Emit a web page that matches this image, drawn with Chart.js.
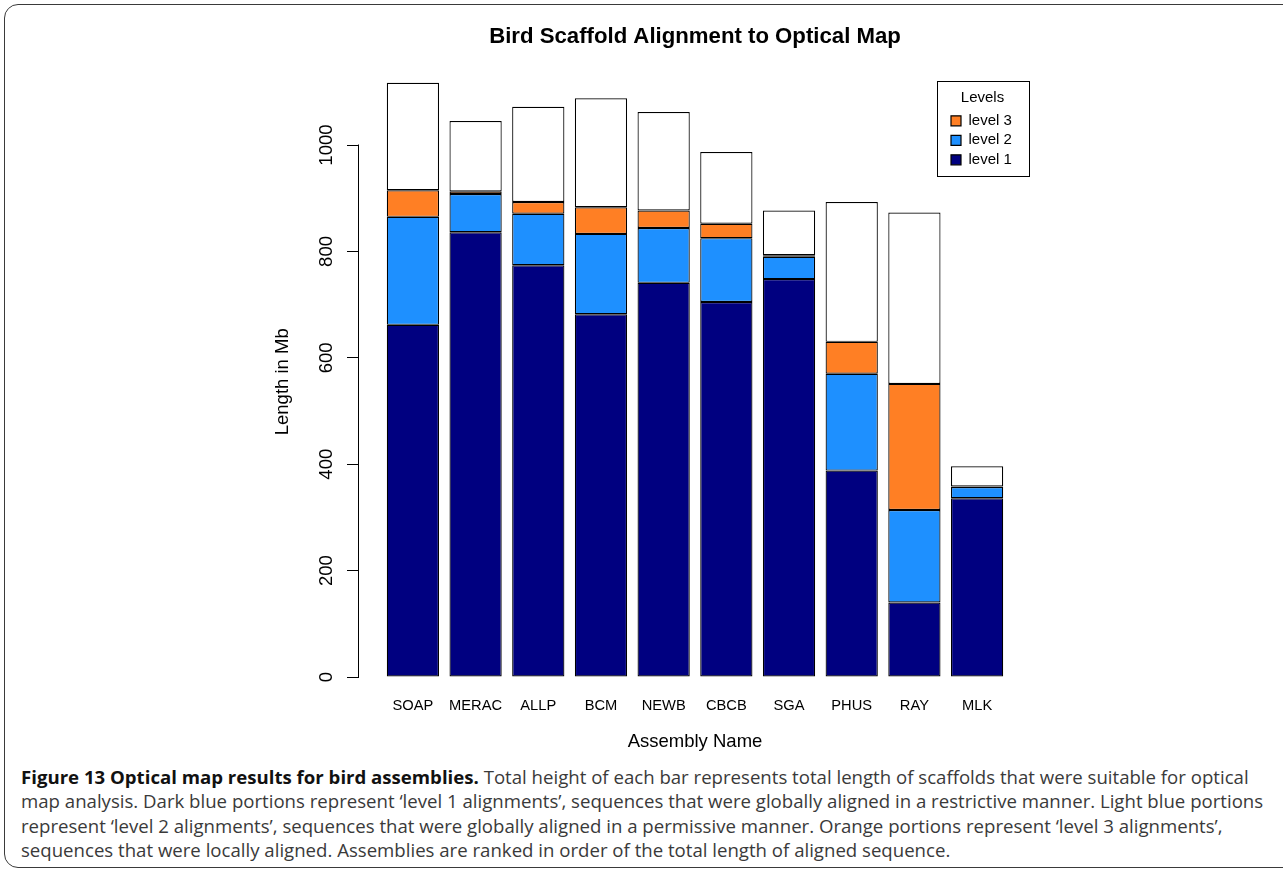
<!DOCTYPE html>
<html>
<head>
<meta charset="utf-8">
<script src="https://cdn.jsdelivr.net/npm/chart.js@4.4.0/dist/chart.umd.min.js"></script>
<style>
  html, body { margin:0; padding:0; background:#fff; width:1283px; height:878px; overflow:hidden; }
  #frame { position:absolute; left:4px; top:4px; width:1320px; height:864px; border:1.5px solid #3a3a3a; border-radius:14px; box-sizing:border-box; }
  #chart { position:absolute; left:0; top:0; }
  #caption { position:absolute; left:21px; top:765px; font-family:'Open Sans', 'Noto Sans', sans-serif; font-size:16px; line-height:24.3px; color:#3a3a3a; white-space:nowrap; }
  #caption b { color:#111; font-weight:700; }
</style>
</head>
<body>
<div id="frame"></div>
<canvas id="chart" width="1283" height="760"></canvas>
<div id="caption">
  <div id="cap1"><b>Figure 13 Optical map results for bird assemblies.</b> Total height of each bar represents total length of scaffolds that were suitable for optical</div>
  <div id="cap2">map analysis. Dark blue portions represent ‘level 1 alignments’, sequences that were globally aligned in a restrictive manner. Light blue portions</div>
  <div id="cap3">represent ‘level 2 alignments’, sequences that were globally aligned in a permissive manner. Orange portions represent ‘level 3 alignments’,</div>
  <div id="cap4">sequences that were locally aligned. Assemblies are ranked in order of the total length of aligned sequence.</div>
</div>
<script>
// ---- data (in Mb) ----
const categories = ['SOAP', 'MERAC', 'ALLP', 'BCM', 'NEWB', 'CBCB', 'SGA', 'PHUS', 'RAY', 'MLK'];
const level1     = [662, 836, 774, 682, 741, 705, 748, 388, 140, 336];
const level2     = [203,  72,  97, 151, 103, 120,  42, 182, 174,  21];
const level3     = [ 50,   5,  22,  50,  33,  27,   3,  60, 237,   1];
const unaligned  = [202, 132, 179, 205, 185, 135,  84, 263, 322,  38];
const yTickValues = [0, 200, 400, 600, 800, 1000];

// ---- styling ----
const FONT = "'Liberation Sans', Arial, Helvetica, sans-serif";
Chart.defaults.font.family = FONT;
Chart.defaults.color = '#000';

const X_PAD = 0.36;     // extra category space on each side (R-style plot region)
const Y_MAX = 1110;

function makeSet(label, data, color) {
  return {
    label, data,
    backgroundColor: color,
    borderColor: '#000',
    borderWidth: 1.2,
    borderSkipped: false,
    barPercentage: 1 / 1.2,
    categoryPercentage: 1,
    clip: false
  };
}

const yAxisLine = {
  id: 'yAxisLine',
  afterDraw(chart) {
    const s = chart.scales.y;
    const ctx = chart.ctx;
    const x = Math.round(s.right) - 0.5;
    const y0 = Math.round(s.getPixelForValue(yTickValues[0])) + 0.5;
    const y1 = Math.round(s.getPixelForValue(yTickValues[yTickValues.length - 1])) - 0.5;
    ctx.save();
    ctx.strokeStyle = '#000';
    ctx.lineWidth = 1;
    ctx.beginPath();
    ctx.moveTo(x, y0);
    ctx.lineTo(x, y1);
    ctx.stroke();
    ctx.restore();
  }
};

const legendPlace = {
  id: 'legendPlace',
  afterLayout(chart) {
    const lg = chart.legend;
    if (!lg) return;
    const ca = chart.chartArea;
    lg.left = ca.right - 84.5;
    lg.top = ca.top - 5.5;
    lg.width = 72;
    lg.right = lg.left + lg.width;
    lg.bottom = lg.top + 200;
  },
  afterDraw(chart) {
    const lg = chart.legend;
    if (!lg) return;
    const ctx = chart.ctx;
    ctx.save();
    ctx.strokeStyle = '#000';
    ctx.lineWidth = 1;
    ctx.strokeRect(Math.round(lg.left - 9.5) + 0.5, Math.round(lg.top) + 0.5, 92, 95);
    ctx.restore();
  }
};

new Chart(document.getElementById('chart'), {
  type: 'bar',
  data: {
    labels: categories,
    datasets: [
      makeSet('level 1', level1, '#000080'),
      makeSet('level 2', level2, '#1E90FF'),
      makeSet('level 3', level3, '#FF7F24'),
      makeSet('unaligned', unaligned, '#FFFFFF')
    ]
  },
  options: {
    responsive: false,
    animation: false,
    devicePixelRatio: 1,
    layout: { padding: { left: 271.4, right: 252, top: 10, bottom: 7.2 } },
    plugins: {
      title: {
        display: true,
        fullSize: false,
        text: 'Bird Scaffold Alignment to Optical Map',
        color: '#000',
        font: { size: 22.2, weight: 'bold', family: FONT },
        padding: { top: 13.4, bottom: 36.5 }
      },
      legend: {
        display: true,
        position: 'chartArea',
        align: 'start',
        reverse: true,
        title: { display: true, text: 'Levels', color: '#000', font: { size: 15, family: FONT }, padding: { top: 9, bottom: 0.8 } },
        labels: {
          boxWidth: 10, boxHeight: 10, padding: 4.5, color: '#000',
          font: { size: 15, family: FONT },
          filter: (item) => item.datasetIndex < 3
        }
      },
      tooltip: { enabled: false }
    },
    scales: {
      x: {
        stacked: true,
        offset: true,
        grid: { display: false },
        border: { display: false },
        ticks: { color: '#000', font: { size: 14.7, family: FONT }, padding: 12, maxRotation: 0, autoSkip: false },
        title: { display: true, text: 'Assembly Name', color: '#000', font: { size: 18.5, family: FONT }, padding: { top: 0, bottom: 0 } },
        afterBuildTicks(s) {
          s._startValue = -0.5 - X_PAD;
          s._valueRange = categories.length + 2 * X_PAD;
        },
        afterFit(s) { s.height = 75.8; }
      },
      y: {
        stacked: true,
        min: 0,
        max: Y_MAX,
        grid: { display: true, drawOnChartArea: false, drawTicks: true, tickLength: 12, color: '#000', lineWidth: 1 },
        border: { display: false },
        ticks: { color: '#000', font: { size: 18.5, family: FONT }, minRotation: 90, maxRotation: 90, crossAlign: 'center', padding: 0,
                 callback: (v) => String(v) },
        title: { display: true, text: 'Length in Mb', color: '#000', font: { size: 18.5, family: FONT }, padding: 0 },
        afterBuildTicks(s) { s.ticks = yTickValues.map(v => ({ value: v })); },
        afterFit(s) { s.width = 87.6; }
      }
    }
  },
  plugins: [yAxisLine, legendPlace]
});

// fit caption width to the reference line length
(function () {
  const cap = document.getElementById('caption');
  const line = document.getElementById('cap2');
  const r = document.createRange();
  r.selectNodeContents(line);
  const w = r.getBoundingClientRect().width;
  if (w > 0) cap.style.fontSize = (16 * 1242 / w).toFixed(2) + 'px';
})();
</script>
</body>
</html>
